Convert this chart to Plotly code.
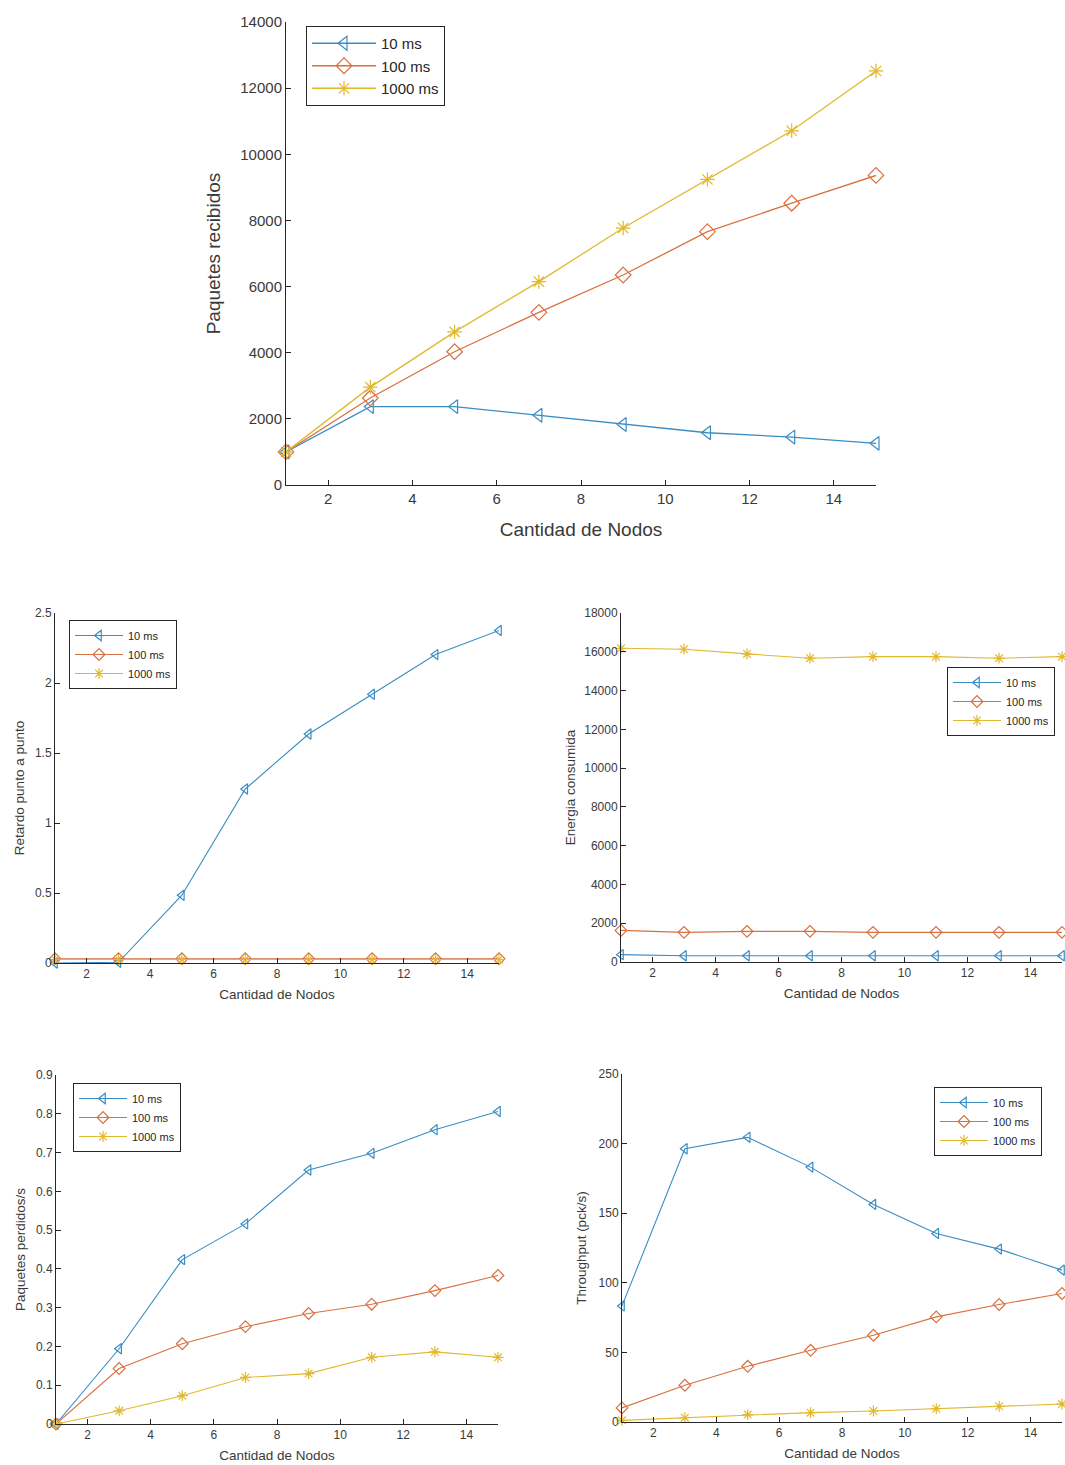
import plotly.graph_objects as go

nodes = [1, 3, 5, 7, 9, 11, 13, 15]
series_names = ["10 ms", "100 ms", "1000 ms"]

recibidos_10 = [1000, 2370, 2370, 2110, 1830, 1580, 1450, 1260]
recibidos_100 = [1000, 2630, 4030, 5220, 6350, 7660, 8520, 9360]
recibidos_1000 = [1000, 2960, 4630, 6150, 7770, 9240, 10710, 12520]

retardo_10 = [0.0, 0.005, 0.484, 1.243, 1.636, 1.92, 2.203, 2.375]
retardo_100 = [0.03, 0.03, 0.03, 0.03, 0.03, 0.03, 0.03, 0.03]
retardo_1000 = [0.025, 0.025, 0.025, 0.025, 0.025, 0.025, 0.025, 0.025]

energia_10 = [380, 320, 320, 320, 320, 320, 320, 320]
energia_100 = [1630, 1530, 1580, 1580, 1530, 1530, 1530, 1530]
energia_1000 = [16180, 16130, 15890, 15670, 15750, 15750, 15670, 15750]

perdidos_10 = [0.0, 0.194, 0.424, 0.516, 0.655, 0.698, 0.759, 0.806]
perdidos_100 = [0.0, 0.143, 0.207, 0.251, 0.285, 0.309, 0.344, 0.383]
perdidos_1000 = [0.0, 0.034, 0.073, 0.120, 0.130, 0.172, 0.186, 0.172]

throughput_10 = [83.4, 196.3, 204.5, 183.1, 156.3, 135.4, 124.2, 109.1]
throughput_100 = [10.1, 26.4, 40.0, 51.5, 62.3, 75.5, 84.4, 92.3]
throughput_1000 = [1.2, 3.1, 5.3, 6.7, 7.9, 9.6, 11.3, 12.9]

colors = ["#3A8DC3", "#D9703F", "#E2B82E"]
symbols = ["triangle-left-open", "diamond-open", "asterisk-open"]

W, H = 1065, 1465
FONT = "Liberation Sans, Arial, sans-serif"
AX = "#262626"
TXT = "#3a3a3a"

panels = [
    dict(data=[recibidos_10, recibidos_100, recibidos_1000], ytitle="Paquetes recibidos",
         yrange=[0, 14000], dtick=2000, box=(286, 876, 22, 485), leg=(306, 26),
         tick=15, title=19, legf=15, msize=12, fmt="d", ystand=14, xstand=16, lw=1.3, iw=64),
    dict(data=[retardo_10, retardo_100, retardo_1000], ytitle="Retardo punto a punto",
         yrange=[0, 2.5], dtick=0.5, box=(55, 499, 613, 963), leg=(69, 620),
         tick=12, title=13.5, legf=11, msize=9, fmt="", ystand=7, xstand=9, lw=1.1, iw=48),
    dict(data=[energia_10, energia_100, energia_1000], ytitle="Energia consumida",
         yrange=[0, 18000], dtick=2000, box=(621, 1062, 613, 962), leg=(947, 667),
         tick=12, title=13.5, legf=11, msize=9, fmt="d", ystand=5, xstand=9, lw=1.1, iw=48),
    dict(data=[perdidos_10, perdidos_100, perdidos_1000], ytitle="Paquetes perdidos/s",
         yrange=[0, 0.9], dtick=0.1, box=(56, 498, 1075, 1424), leg=(73, 1083),
         tick=12, title=13.5, legf=11, msize=9, fmt="", ystand=7, xstand=9, lw=1.1, iw=48),
    dict(data=[throughput_10, throughput_100, throughput_1000], ytitle="Throughput (pck/s)",
         yrange=[0, 250], dtick=50, box=(622, 1062, 1074, 1422), leg=(934, 1087),
         tick=12, title=13.5, legf=11, msize=9, fmt="d", ystand=8, xstand=9, lw=1.1, iw=48),
]

fig = go.Figure()
layout = dict(width=W, height=H, margin=dict(l=0, r=0, t=0, b=0, autoexpand=False),
              paper_bgcolor="white", plot_bgcolor="white",
              font=dict(family=FONT, color=TXT), showlegend=True)

for i, p in enumerate(panels):
    n = "" if i == 0 else str(i + 1)
    legname = "legend" + n
    for j, (vals, name) in enumerate(zip(p["data"], series_names)):
        fig.add_trace(go.Scatter(
            x=nodes, y=vals, name=name, mode="lines+markers",
            xaxis="x" + n, yaxis="y" + n, legend=legname,
            line=dict(color=colors[j], width=p["lw"]),
            marker=dict(symbol=symbols[j], size=p["msize"], color=colors[j],
                        line=dict(color=colors[j], width=1.2)),
            cliponaxis=False,
        ))
    x0, x1, yt, yb = p["box"]
    common = dict(showline=True, linecolor=AX, linewidth=1, ticks="inside",
                  ticklen=5, tickcolor=AX, showgrid=False, zeroline=False,
                  mirror=False, automargin=False,
                  tickfont=dict(size=p["tick"], color=TXT, family=FONT))
    layout["xaxis" + n] = dict(common, domain=[x0 / W, x1 / W], range=[1, 15],
                               tickmode="array", tickvals=[2, 4, 6, 8, 10, 12, 14],
                               anchor="y" + n,
                               title=dict(text="Cantidad de Nodos",
                                          font=dict(size=p["title"], color=TXT, family=FONT),
                                          standoff=p["xstand"]))
    layout["yaxis" + n] = dict(common, domain=[1 - yb / H, 1 - yt / H], range=p["yrange"],
                               dtick=p["dtick"], tick0=0, anchor="x" + n,
                               tickformat=p["fmt"],
                               title=dict(text=p["ytitle"],
                                          font=dict(size=p["title"], color=TXT, family=FONT),
                                          standoff=p["ystand"]))
    lx, ly = p["leg"]
    layout[legname] = dict(x=lx / W, y=1 - ly / H, xanchor="left", yanchor="top",
                           bgcolor="white", bordercolor="#262626", borderwidth=1,
                           font=dict(size=p["legf"], color="#262626", family=FONT),
                           itemwidth=p["iw"], tracegroupgap=0)

fig.update_layout(**layout)
fig.write_html("out.html", config={"displayModeBar": False},
               post_script="document.body.style.margin='0';document.body.style.overflow='hidden';")
